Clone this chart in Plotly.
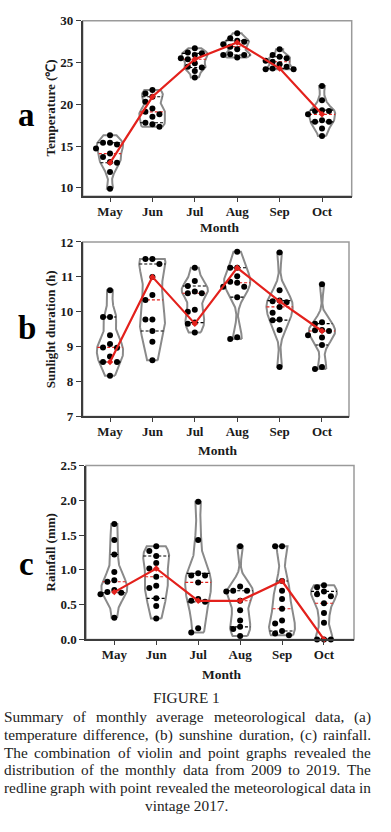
import numpy as np
import plotly.graph_objects as go

months = ["May", "Jun", "Jul", "Aug", "Sep", "Oct"]

temp_data = [
    [16.3, 15.4, 15.4, 15.2, 14.7, 14.1, 13.7, 13.1, 13.0, 11.9, 9.9],
    [21.7, 21.3, 20.9, 20.3, 19.5, 19.1, 18.8, 18.5, 17.8, 17.6, 17.3],
    [26.7, 26.2, 26.1, 25.9, 25.5, 25.4, 24.9, 24.5, 24.4, 24.0, 23.2],
    [28.5, 27.9, 27.6, 27.5, 27.2, 26.9, 26.6, 26.0, 25.9, 25.9, 25.6],
    [26.6, 25.9, 25.7, 25.5, 25.2, 25.1, 24.8, 24.5, 24.3, 24.2, 24.2],
    [22.2, 20.5, 19.3, 19.2, 19.2, 18.8, 18.1, 17.9, 17.9, 17.1, 16.2],
]
sun_data = [
    [10.62, 9.85, 9.85, 9.33, 9.08, 8.98, 8.97, 8.72, 8.56, 8.56, 8.17],
    [11.51, 11.51, 11.37, 11.0, 10.48, 10.34, 9.78, 9.78, 9.45, 9.14, 8.61],
    [11.26, 10.88, 10.74, 10.58, 10.53, 10.53, 10.06, 10.0, 9.69, 9.66, 9.41],
    [11.72, 11.26, 11.26, 11.02, 10.86, 10.83, 10.72, 10.72, 10.42, 9.27, 9.22],
    [11.7, 10.62, 10.32, 10.3, 10.27, 10.14, 9.97, 9.78, 9.76, 9.48, 8.42],
    [10.79, 9.70, 9.66, 9.48, 9.47, 9.45, 9.33, 9.26, 9.05, 8.42, 8.36],
]
rain_data = [
    [1.66, 1.43, 1.22, 0.97, 0.85, 0.83, 0.71, 0.68, 0.67, 0.65, 0.31],
    [1.34, 1.27, 1.20, 1.10, 1.02, 0.90, 0.77, 0.74, 0.59, 0.48, 0.30],
    [1.98, 1.43, 0.95, 0.92, 0.92, 0.82, 0.58, 0.555, 0.54, 0.16, 0.10],
    [1.34, 0.76, 0.70, 0.70, 0.69, 0.555, 0.42, 0.27, 0.18, 0.15, 0.05],
    [1.34, 1.34, 0.84, 0.70, 0.58, 0.44, 0.27, 0.23, 0.12, 0.085, 0.06],
    [0.78, 0.75, 0.69, 0.65, 0.62, 0.52, 0.38, 0.24, 0.0, 0.0, 0.0],
]
temp_2017 = [13.0, 20.9, 25.4, 27.4, 24.3, 18.8]
sun_2017 = [8.56, 11.0, 9.66, 11.26, 10.3, 9.45]
rain_2017 = [0.68, 1.02, 0.555, 0.555, 0.84, 0.0]

W, H = 391, 832
SERIF = "Liberation Serif, Times New Roman, serif"
RED = "#e3211c"
VGREY = "#8a8a8a"
DARK = "#1a1a1a"

panels = [
    dict(data=temp_data, red=temp_2017, xpx=(82.7, 351.7), ypx=(14, 192.7),
         xr=(-0.644, 5.70), yr=(9, 30), tick0=10, dtick=5, fmt="", title="Temperature (℃)",
         letter="a", letter_y=110, month_y=225),
    dict(data=sun_data, red=sun_2017, xpx=(82.7, 349), ypx=(239.3, 417),
         xr=(-0.644, 5.637), yr=(7, 12), tick0=7, dtick=1, fmt="", title="Sunlight duration (h)",
         letter="b", letter_y=327, month_y=452),
    dict(data=rain_data, red=rain_2017, xpx=(86, 354), ypx=(467, 644),
         xr=(-0.675, 5.716), yr=(0, 2.5), tick0=0, dtick=0.5, fmt=".1f", title="Rainfall (mm)",
         letter="c", letter_y=567, month_y=680),
]

fig = go.Figure()
annotations = []
shapes = []


def kde(vals, grid, factor=0.55):
    v = np.asarray(vals, float)
    n = len(v)
    sd = v.std(ddof=1)
    h = factor * 1.06 * sd * n ** (-0.2)
    return np.exp(-0.5 * ((grid[:, None] - v[None, :]) / h) ** 2).sum(axis=1)


for i, p in enumerate(panels):
    ax = "" if i == 0 else str(i + 1)
    xa, ya = "x" + ax, "y" + ax
    x0p, x1p = p["xpx"]
    y0p, y1p = p["ypx"]
    xpx_per = (x1p - x0p) / (p["xr"][1] - p["xr"][0])
    ypx_per = (y1p - y0p) / (p["yr"][1] - p["yr"][0])
    HW = 0.31
    for k, vals in enumerate(p["data"]):
        v = np.sort(np.asarray(vals, float))
        grid = np.linspace(v.min(), v.max(), 160)
        dens = kde(v, grid)
        hw = HW * dens / dens.max()
        px = np.concatenate([k + hw, (k - hw)[::-1], [k + hw[0]]])
        py = np.concatenate([grid, grid[::-1], [grid[0]]])
        fig.add_trace(go.Scatter(x=px, y=py, mode="lines", line=dict(color=VGREY, width=2),
                                 xaxis=xa, yaxis=ya, hoverinfo="skip", showlegend=False))
        q1, med, q3 = np.percentile(v, [25, 50, 75], method="weibull")
        for q, col in [(q1, "black"), (q3, "black"), (med, RED)]:
            w = HW * kde(v, np.array([q]))[0] / dens.max()
            fig.add_trace(go.Scatter(x=[k - w, k + w], y=[q, q], mode="lines",
                                     line=dict(color=col, width=1.1, dash="3px,2px"),
                                     xaxis=xa, yaxis=ya, hoverinfo="skip", showlegend=False))
        placed = []
        s = 0.165
        cands = [0, -s, s, -2 * s, 2 * s]
        xs, ys = [], []
        for val in v[::-1]:
            for c in cands:
                ok = True
                for (pxk, pyk) in placed:
                    dx = (c - pxk) * xpx_per
                    dy = (val - pyk) * ypx_per
                    if dx * dx + dy * dy < 6.3 ** 2:
                        ok = False
                        break
                if ok:
                    placed.append((c, val))
                    xs.append(k + c)
                    ys.append(val)
                    break
        fig.add_trace(go.Scatter(x=xs, y=ys, mode="markers",
                                 marker=dict(color="black", size=6),
                                 xaxis=xa, yaxis=ya, cliponaxis=False,
                                 hoverinfo="skip", showlegend=False))
    fig.add_trace(go.Scatter(x=list(range(6)), y=p["red"], mode="lines+markers",
                             line=dict(color=RED, width=2.2),
                             marker=dict(color=RED, size=5, symbol="diamond"),
                             xaxis=xa, yaxis=ya, cliponaxis=False,
                             hoverinfo="skip", showlegend=False))

    dom_x = [x0p / W, x1p / W]
    dom_y = [1 - y1p / H, 1 - y0p / H]
    tf = dict(family=SERIF, size=13, color=DARK, weight="bold")
    fig.layout["xaxis" + ax] = dict(
        domain=dom_x, anchor=ya, range=list(p["xr"]), tickvals=list(range(6)), ticktext=months,
        showgrid=False, zeroline=False, showline=True, linecolor="#3c3c3c", linewidth=1.5,
        ticks="outside", ticklen=4, tickwidth=1.3, tickcolor="#3c3c3c",
        ticklabelstandoff=-2, tickfont=tf, fixedrange=True)
    fig.layout["yaxis" + ax] = dict(
        domain=dom_y, anchor=xa, range=list(p["yr"]), tick0=p["tick0"], dtick=p["dtick"],
        tickformat=p["fmt"], showgrid=False, zeroline=False, showline=True,
        linecolor="#3c3c3c", linewidth=1.5, ticks="outside", ticklen=5, tickwidth=1.3,
        tickcolor="#3c3c3c", tickfont=tf, fixedrange=True)
    shapes.append(dict(type="rect", xref=xa + " domain", yref=ya + " domain", x0=0, x1=1, y0=0, y1=1,
                       line=dict(color="#9a9a9a", width=1.5), layer="below"))
    annotations.append(dict(text="<b>%s</b>" % p["title"], x=50 / W, y=1 - (y0p + y1p) / 2 / H,
                            xref="paper", yref="paper", textangle=-90, showarrow=False,
                            font=dict(family=SERIF, size=13, color=DARK),
                            xanchor="center", yanchor="middle"))
    annotations.append(dict(text="<b>%s</b>" % p["letter"], x=27 / W, y=1 - p["letter_y"] / H,
                            xref="paper", yref="paper", showarrow=False,
                            font=dict(family=SERIF, size=33, color="black"),
                            xanchor="center", yanchor="middle"))
    annotations.append(dict(text="<b>Month</b>", x=(x0p + x1p) / 2 / W + 0.005, y=1 - p["month_y"] / H,
                            xref="paper", yref="paper", showarrow=False,
                            font=dict(family=SERIF, size=13.5, color=DARK),
                            xanchor="center", yanchor="middle"))

# caption (justified by placing words using Times metrics)
caption_title = "FIGURE 1"
caption_lines = [
    "Summary of monthly average meteorological data, (a)",
    "temperature difference, (b) sunshine duration, (c) rainfall.",
    "The combination of violin and point graphs revealed the",
    "distribution of the monthly data from 2009 to 2019. The",
    "redline graph with point revealed the meteorological data in",
    "vintage 2017.",
]
TW = {' ': 250, 'a': 444, 'b': 500, 'c': 444, 'd': 500, 'e': 444, 'f': 333, 'g': 500, 'h': 500,
      'i': 278, 'j': 278, 'k': 500, 'l': 278, 'm': 778, 'n': 500, 'o': 500, 'p': 500, 'q': 500,
      'r': 333, 's': 389, 't': 278, 'u': 500, 'v': 500, 'w': 722, 'x': 500, 'y': 500, 'z': 444,
      '(': 333, ')': 333, ',': 250, '.': 250, 'T': 611, 'S': 556}
CFS = 15.3


def tw(s):
    return sum(TW.get(ch, 500) for ch in s) * CFS / 1000.0


annotations.append(dict(text=caption_title, x=186 / W, y=1 - 703 / H, xref="paper", yref="paper",
                        showarrow=False, font=dict(family=SERIF, size=CFS, color="#222"),
                        xanchor="center", yanchor="middle"))
line_y = [723, 741, 759, 777, 795, 813]
LX0, LX1 = 3.0, 370.0
for j, (t, ly) in enumerate(zip(caption_lines, line_y)):
    if j == len(caption_lines) - 1:
        annotations.append(dict(text=t, x=186 / W, y=1 - ly / H, xref="paper", yref="paper",
                                showarrow=False, font=dict(family=SERIF, size=CFS, color="#222"),
                                xanchor="center", yanchor="middle"))
        continue
    words = t.split(" ")
    widths = [tw(wd) for wd in words]
    gap = (LX1 - LX0 - sum(widths)) / (len(words) - 1)
    xcur = LX0
    for wd, wwd in zip(words, widths):
        annotations.append(dict(text=wd, x=xcur / W, y=1 - ly / H, xref="paper", yref="paper",
                                showarrow=False, font=dict(family=SERIF, size=CFS, color="#222"),
                                xanchor="left", yanchor="middle", borderpad=0))
        xcur += wwd + gap

fig.update_layout(width=W, height=H, margin=dict(l=0, r=0, t=0, b=0),
                  paper_bgcolor="white", plot_bgcolor="white", showlegend=False,
                  annotations=annotations, shapes=shapes)
fig.write_html("out.html", config={"displayModeBar": False},
               post_script="document.body.style.margin='0';document.body.style.overflow='hidden';")
